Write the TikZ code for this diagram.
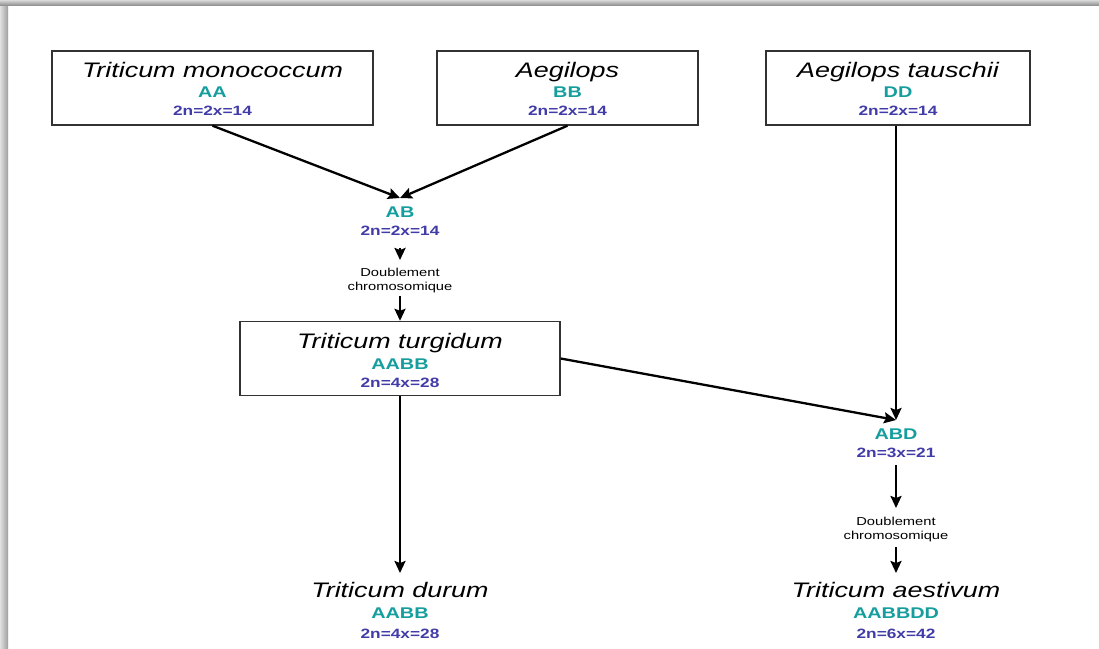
\documentclass[tikz,border=0pt]{standalone}
\usepackage{fontspec}
\setmainfont[FakeStretch=1.28]{Liberation Sans}
\usetikzlibrary{arrows.meta}
\definecolor{genomeC}{RGB}{22,158,158}
\definecolor{ploidyC}{RGB}{66,60,168}
\definecolor{frameC}{RGB}{50,50,50}

\tikzset{
  species/.style={font=\fontsize{21}{25}\selectfont\itshape, anchor=base, inner sep=0pt},
  genome/.style={font=\fontsize{15.5}{18}\selectfont\bfseries, text=genomeC, anchor=base, inner sep=0pt},
  ploidy/.style={font=\fontsize{13.5}{16}\selectfont\bfseries, text=ploidyC, anchor=base, inner sep=0pt},
  note/.style={font=\fontsize{11.5}{14}\selectfont, anchor=base, inner sep=0pt},
  taxbox/.style={draw=frameC, line width=1.4pt, minimum height=74pt, inner sep=0pt},
  link/.style={line width=2.3pt, -{Stealth[length=12pt,width=11pt,inset=2pt]}},
}

\begin{document}
\begin{tikzpicture}[x=1pt,y=-1pt]
  \useasboundingbox (0,0) rectangle (1099,648);
  \fill[white] (0,0) rectangle (1099,648);
  % page edge shadow
  \shade[left color=black!12, right color=black!38] (0,0) rectangle (8,648);
  \shade[top color=black!15, bottom color=black!42] (0,0) rectangle (1099,5);

  % parent species
  \node[taxbox, minimum width=321pt] (mono) at (212.5,88) {};
  \node[species] (monoN) at (212.5,77) {Triticum monococcum};
  \node[genome]  (monoG) at (212.5,97.5) {AA};
  \node[ploidy]  (monoP) at (212.5,115.5) {2n=2x=14};

  \node[taxbox, minimum width=261pt] (aeg) at (567.5,88) {};
  \node[species] (aegN) at (567.5,77) {Aegilops};
  \node[genome]  (aegG) at (567.5,97.5) {BB};
  \node[ploidy]  (aegP) at (567.5,115.5) {2n=2x=14};

  \node[taxbox, minimum width=264pt] (tau) at (898,88) {};
  \node[species] (tauN) at (898,77) {Aegilops tauschii};
  \node[genome]  (tauG) at (898,97.5) {DD};
  \node[ploidy]  (tauP) at (898,115.5) {2n=2x=14};

  % AB hybrid
  \node[genome] (abG) at (400,217) {AB};
  \node[ploidy] (abP) at (400,235.5) {2n=2x=14};
  \node[note] (abD1) at (400,276) {Doublement};
  \node[note] (abD2) at (400,290) {chromosomique};

  % tetraploid
  \node[taxbox, minimum width=320pt] (turg) at (400,358.5) {};
  \node[species] (turgN) at (400,348) {Triticum turgidum};
  \node[genome]  (turgG) at (400,369) {AABB};
  \node[ploidy]  (turgP) at (400,387.5) {2n=4x=28};

  % ABD hybrid
  \node[genome] (abdG) at (896,439) {ABD};
  \node[ploidy] (abdP) at (896,457) {2n=3x=21};
  \node[note] (abdD1) at (896,525) {Doublement};
  \node[note] (abdD2) at (896,539) {chromosomique};

  % final species
  \node[species] (durN) at (400,597) {Triticum durum};
  \node[genome]  (durG) at (400,618) {AABB};
  \node[ploidy]  (durP) at (400,638) {2n=4x=28};

  \node[species] (aesN) at (896,597) {Triticum aestivum};
  \node[genome]  (aesG) at (896,618) {AABBDD};
  \node[ploidy]  (aesP) at (896,638) {2n=6x=42};

  % arrow end points
  \coordinate (abIn) at (400,198);
  \coordinate (abOut) at (400,248);
  \coordinate (abDbl) at (400,260);
  \coordinate (turgIn) at (400,296);
  \coordinate (abdIn) at (896,420);
  \coordinate (abdOut) at (896,465);
  \coordinate (abdDbl) at (896,508);
  \coordinate (aesOut) at (896,547);
  \coordinate (aesIn) at (896,573);
  \coordinate (durIn) at (400,573);

  % connectors
  \draw[link] (mono.south) -- (abIn);
  \draw[link] (aeg.south) -- (abIn);
  \draw[link] (abOut) -- (abDbl);
  \draw[link] (turgIn) -- (turg.north);
  \draw[link] (abdIn |- tau.south) -- (abdIn);
  \draw[link] (turg.east) -- (abdIn);
  \draw[link] (turg.south) -- (durIn);
  \draw[link] (abdOut) -- (abdDbl);
  \draw[link] (aesOut) -- (aesIn);
\end{tikzpicture}
\end{document}
